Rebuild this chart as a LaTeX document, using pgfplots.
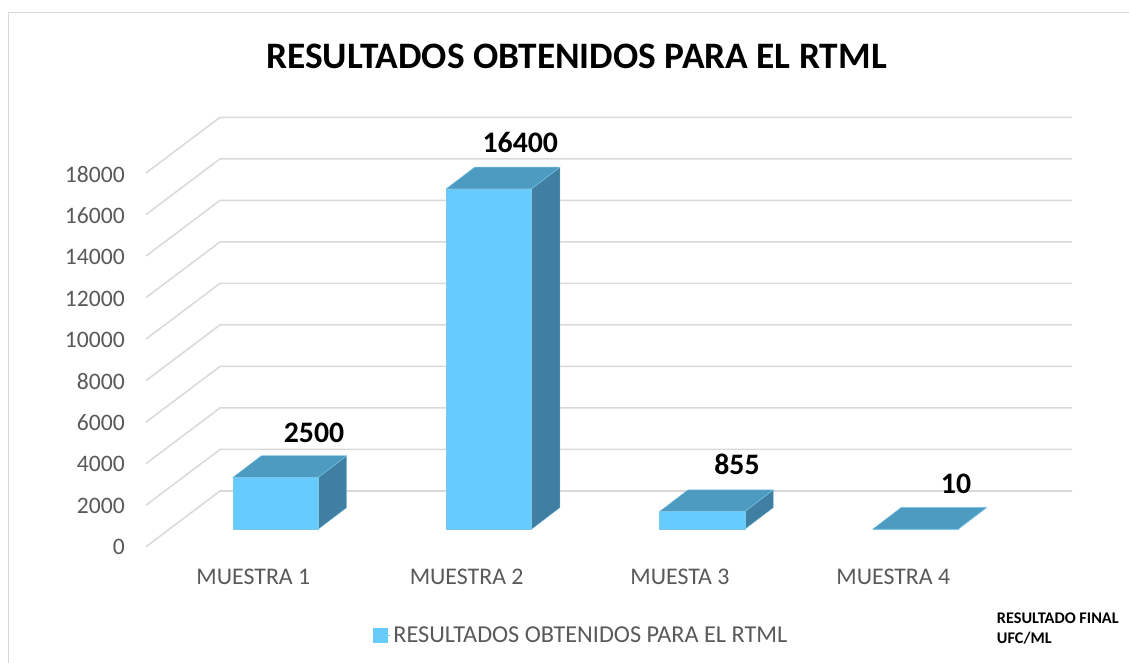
\documentclass[border=0pt]{standalone}
\usepackage{fontspec}
\setmainfont{Carlito}
\usepackage{pgfplots}
\pgfplotsset{compat=1.18}
\definecolor{gridc}{HTML}{D9D9D9}
\definecolor{txt}{HTML}{595959}
\definecolor{frontc}{HTML}{66CCFF}
\definecolor{topc}{HTML}{4E9BC2}
\definecolor{sidec}{HTML}{407EA2}
\definecolor{edgec}{HTML}{7CC6E8}
\pgfplotsset{
  gl/.style={gridc,line width=1.15pt,forget plot,mark=none},
  fr/.style={fill=frontc,draw=edgec,line width=0.3pt,mark=none},
  tp/.style={fill=topc,draw=edgec,line width=0.3pt,forget plot,mark=none},
  sd/.style={fill=sidec,draw=edgec,line width=0.3pt,forget plot,mark=none},
}
\begin{document}
\begin{tikzpicture}
\begin{scope}[x=0.75pt,y=-0.75pt]
\path[use as bounding box] (0,0) rectangle (1129,663);
\draw[gridc,line width=0.9pt] (8.5,663)--(8.5,12.5)--(1129,12.5);
\node[anchor=base,inner sep=0pt,font=\bfseries\fontsize{28pt}{32pt}\selectfont] at (576.5,68.5) {RESULTADOS OBTENIDOS PARA EL RTML};
\node[anchor=base west,inner sep=0pt,font=\bfseries\fontsize{12.2pt}{14pt}\selectfont] at (996.7,623.3) {RESULTADO FINAL};
\node[anchor=base west,inner sep=0pt,font=\bfseries\fontsize{12.2pt}{14pt}\selectfont] at (996.7,643.3) {UFC/ML};
\end{scope}
\begin{axis}[
  at={(109.5pt,-410.21pt)},anchor=south west,
  scale only axis,width=694.5pt,height=322.46pt,
  xmin=0.3929,xmax=4.734,ymin=-850,ymax=19860,
  clip=false,axis line style={draw=none},
  major tick length=0pt,
  scaled y ticks=false,
  xtick={1,2,3,4},
  xticklabels={MUESTRA 1,MUESTRA 2,MUESTA 3,MUESTRA 4},
  xticklabel style={anchor=base,inner sep=0pt,xshift=-16.6pt,yshift=-28.5pt,font=\fontsize{17.9pt}{20pt}\selectfont,text=txt},
  ytick={-845,1147,3139,5131,7123,9115,11107,13099,15091,17083},
  yticklabels={0,2000,4000,6000,8000,10000,12000,14000,16000,18000},
  yticklabel style={anchor=east,inner sep=0pt,xshift=-15.7pt,font=\fontsize{17.7pt}{20pt}\selectfont,text=txt},
  /pgf/number format/assume math mode=true,
  legend style={at={(0.2451,-0.2055)},anchor=west,draw=none,fill=none,inner sep=0pt,outer sep=0pt,
    font=\fontsize{18.2pt}{20pt}\selectfont,text=txt,
    legend cell align=left},
  legend image code/.code={\fill[frontc] (0pt,-5.2pt) rectangle (10.2pt,5.2pt);\path (0pt,0pt)--(13pt,0pt);},
]
% back wall and left wall grid lines
\addplot[gl] coordinates {(0.3929,-838)(0.7398,1845)(4.734,1845)};
\addplot[gl] coordinates {(0.3929,1162)(0.7398,3845)(4.734,3845)};
\addplot[gl] coordinates {(0.3929,3162)(0.7398,5845)(4.734,5845)};
\addplot[gl] coordinates {(0.3929,5162)(0.7398,7845)(4.734,7845)};
\addplot[gl] coordinates {(0.3929,7162)(0.7398,9845)(4.734,9845)};
\addplot[gl] coordinates {(0.3929,9162)(0.7398,11845)(4.734,11845)};
\addplot[gl] coordinates {(0.3929,11162)(0.7398,13845)(4.734,13845)};
\addplot[gl] coordinates {(0.3929,13162)(0.7398,15845)(4.734,15845)};
\addplot[gl] coordinates {(0.3929,15162)(0.7398,17845)(4.734,17845)};
\addplot[gl] coordinates {(0.3929,17162)(0.7398,19845)(4.734,19845)};
% MUESTRA 1 = 2500
\addplot[sd] coordinates {(1.2,0)(1.3336,1045)(1.3336,3545)(1.2,2500)} --cycle;
\addplot[tp] coordinates {(0.8,2500)(1.2,2500)(1.3336,3545)(0.9336,3545)} --cycle;
\addplot[fr] coordinates {(0.8,0)(1.2,0)(1.2,2500)(0.8,2500)} --cycle;
\addlegendentry{RESULTADOS OBTENIDOS PARA EL RTML}
% MUESTRA 2 = 16400
\addplot[sd] coordinates {(2.2,0)(2.3336,1045)(2.3336,17445)(2.2,16400)} --cycle;
\addplot[tp] coordinates {(1.8,16400)(2.2,16400)(2.3336,17445)(1.9336,17445)} --cycle;
\addplot[fr,forget plot] coordinates {(1.8,0)(2.2,0)(2.2,16400)(1.8,16400)} --cycle;
% MUESTA 3 = 855
\addplot[sd] coordinates {(3.2,0)(3.3336,1045)(3.3336,1900)(3.2,855)} --cycle;
\addplot[tp] coordinates {(2.8,855)(3.2,855)(3.3336,1900)(2.9336,1900)} --cycle;
\addplot[fr,forget plot] coordinates {(2.8,0)(3.2,0)(3.2,855)(2.8,855)} --cycle;
% MUESTRA 4 = 10
\addplot[sd] coordinates {(4.2,0)(4.3336,1045)(4.3336,1055)(4.2,10)} --cycle;
\addplot[tp] coordinates {(3.8,10)(4.2,10)(4.3336,1055)(3.9336,1055)} --cycle;
\addplot[fr,forget plot] coordinates {(3.8,0)(4.2,0)(4.2,10)(3.8,10)} --cycle;
% data labels
\node[anchor=base,inner sep=0pt,font=\bfseries\fontsize{22.3pt}{24pt}\selectfont] at (axis cs:1.1805,4200) {2500};
\node[anchor=base,inner sep=0pt,font=\bfseries\fontsize{22.3pt}{24pt}\selectfont] at (axis cs:2.1477,18150) {16400};
\node[anchor=base,inner sep=0pt,font=\bfseries\fontsize{22.3pt}{24pt}\selectfont] at (axis cs:3.1636,2630) {855};
\node[anchor=base,inner sep=0pt,font=\bfseries\fontsize{22.3pt}{24pt}\selectfont] at (axis cs:4.1904,1745) {10};
\end{axis}
\end{tikzpicture}
\end{document}
